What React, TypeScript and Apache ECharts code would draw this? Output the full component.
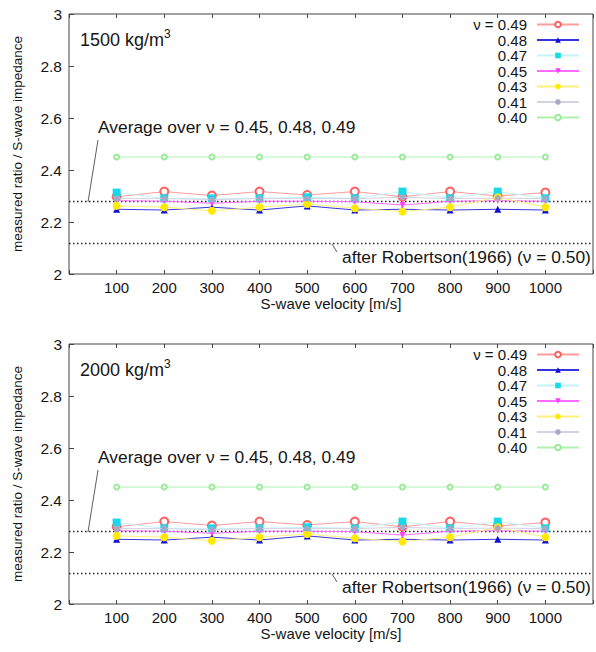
import React, { useEffect, useRef } from "react";
import * as echarts from "echarts";

// ---- data ----
const velocities = [100, 200, 300, 400, 500, 600, 700, 800, 900, 1000];
const nu049 = [2.297, 2.317, 2.302, 2.317, 2.304, 2.317, 2.297, 2.317, 2.3, 2.313];
const nu048 = [2.249, 2.246, 2.257, 2.246, 2.262, 2.246, 2.249, 2.246, 2.249, 2.246];
const nu047 = [2.313, 2.291, 2.291, 2.291, 2.295, 2.291, 2.317, 2.291, 2.317, 2.291];
const nu045 = [2.282, 2.28, 2.272, 2.28, 2.28, 2.278, 2.265, 2.28, 2.282, 2.28];
const nu043 = [2.262, 2.257, 2.243, 2.257, 2.269, 2.253, 2.24, 2.257, 2.295, 2.257];
const nu041 = [2.29, 2.29, 2.286, 2.29, 2.29, 2.29, 2.295, 2.29, 2.292, 2.29];
const nu040 = [2.45, 2.45, 2.45, 2.45, 2.45, 2.45, 2.45, 2.45, 2.45, 2.45];
const avgLevel = 2.278;
const robertsonLevel = 2.12;
const panelDensities = ["1500", "2000"];
const seriesNames = ["ν = 0.49", "0.48", "0.47", "0.45", "0.43", "0.41", "0.40"];
const seriesValues = [nu049, nu048, nu047, nu045, nu043, nu041, nu040];
const avgText = "Average over ν = 0.45, 0.48, 0.49";
const robertsonText = "after Robertson(1966) (ν = 0.50)";
const xName = "S-wave velocity [m/s]";
const yName = "measured ratio / S-wave impedance";

// ---- styles ----
const styles = [
  { color: "#ff6060", line: "#ff9c9c", symbol: "emptyCircle", size: 8, rotate: 0 },
  { color: "#1010d0", line: "#3535e0", symbol: "triangle", size: 7, rotate: 0 },
  { color: "#18d8ea", line: "#c2f3f8", symbol: "rect", size: 8, rotate: 0 },
  { color: "#ff3cff", line: "#ff6cff", symbol: "triangle", size: 6, rotate: 180 },
  { color: "#ffea00", line: "#fff07a", symbol: "circle", size: 8, rotate: 0 },
  { color: "#a8a8c4", line: "#d2d2e2", symbol: "circle", size: 6, rotate: 0 },
  { color: "#98ec98", line: "#aef2ae", symbol: "emptyCircle", size: 5, rotate: 0 },
];

const FONT = "'Liberation Sans', Arial, Helvetica, sans-serif";
const TEXT = "#151515";
const FRAME = "#444";
const GRID_LEFT = 69;
const GRID_W = 529;
const GRID_H = 260;
const panelTops = [14, 344];
const legendRowCenters = [25, 40.5, 56, 71.5, 87, 102.5, 118];

export default function App() {
  const ref = useRef<HTMLDivElement>(null);
  useEffect(() => {
    const chart = echarts.init(ref.current!, null, { renderer: "svg" });
    const grid: any[] = [];
    const xAxis: any[] = [];
    const yAxis: any[] = [];
    const series: any[] = [];
    const legend: any[] = [];
    const graphic: any[] = [];

    panelTops.forEach((top, p) => {
      const off = top - panelTops[0];
      grid.push({
        left: GRID_LEFT,
        top,
        width: GRID_W,
        height: GRID_H,
        show: true,
        borderColor: FRAME,
        borderWidth: 1,
        backgroundColor: "transparent",
      });
      xAxis.push({
        type: "value",
        gridIndex: p,
        min: 0,
        max: 1100,
        interval: 100,
        name: xName,
        nameLocation: "middle",
        nameGap: 21,
        nameTextStyle: { fontFamily: FONT, fontSize: 15, color: TEXT },
        axisLine: { show: false },
        axisTick: { show: true, inside: true, length: 4, lineStyle: { color: FRAME } },
        splitLine: { show: false },
        axisLabel: {
          fontFamily: FONT,
          fontSize: 15,
          color: TEXT,
          margin: 6,
          formatter: (v: number) => (velocities.includes(v) ? String(v) : ""),
        },
      });
      xAxis.push({
        type: "value",
        gridIndex: p,
        position: "top",
        min: 0,
        max: 1100,
        interval: 100,
        axisLine: { show: false },
        axisTick: { show: true, inside: true, length: 4, lineStyle: { color: FRAME } },
        splitLine: { show: false },
        axisLabel: { show: false },
      });
      yAxis.push({
        type: "value",
        gridIndex: p,
        min: 2,
        max: 3,
        interval: 0.2,
        name: yName,
        nameLocation: "middle",
        nameGap: 45,
        nameTextStyle: { fontFamily: FONT, fontSize: 13.5, color: TEXT },
        axisLine: { show: false },
        axisTick: { show: true, inside: true, length: 5, lineStyle: { color: FRAME } },
        splitLine: { show: false },
        axisLabel: { fontFamily: FONT, fontSize: 15.5, color: TEXT, margin: 7 },
      });

      seriesNames.forEach((name, i) => {
        const st = styles[i];
        const s: any = {
          type: "line",
          name,
          xAxisIndex: p * 2,
          yAxisIndex: p,
          data: velocities.map((v, k) => [v, seriesValues[i][k]]),
          symbol: st.symbol,
          symbolSize: st.size,
          symbolRotate: st.rotate,
          showAllSymbol: true,
          lineStyle: { color: st.line, width: 1 },
          itemStyle: { color: st.color, borderColor: st.color, borderWidth: st.symbol === "emptyCircle" ? 1 : 0 },
          emphasis: { disabled: true },
          silent: true,
          z: 2 + i,
        };
        if (i === 0) {
          s.markLine = {
            silent: true,
            symbol: ["none", "none"],
            label: { show: false },
            lineStyle: { color: "#222", width: 1.3, type: [1.5, 2.5] },
            data: [{ yAxis: avgLevel }, { yAxis: robertsonLevel }],
            z: 1,
          };
        }
        series.push(s);
      });

      seriesNames.forEach((name, i) => {
        legend.push({
          show: true,
          data: [name],
          orient: "vertical",
          align: "right",
          right: 16,
          top: legendRowCenters[i] + off - 8,
          itemWidth: 42,
          itemHeight: 7,
          padding: 0,
          selectedMode: false,
          textStyle: { fontFamily: FONT, fontSize: 15, color: TEXT, padding: [0, 5, 0, 0] },
        });
      });

      graphic.push(
        {
          type: "text",
          x: 80,
          y: 40 + off,
          style: {
            text: panelDensities[p] + " kg/m{sup|3}",
            fontFamily: FONT,
            fontSize: 18,
            fill: TEXT,
            verticalAlign: "middle",
            lineHeight: 24,
            rich: { sup: { fontFamily: FONT, fontSize: 12, verticalAlign: "top", lineHeight: 24, fill: TEXT } },
          },
        },
        {
          type: "text",
          x: 98,
          y: 127 + off,
          style: { text: avgText, fontFamily: FONT, fontSize: 17.4, fill: TEXT, verticalAlign: "middle" },
        },
        {
          type: "line",
          shape: { x1: 98, y1: 140 + off, x2: 88, y2: 202 + off },
          style: { stroke: "#333", lineWidth: 0.8 },
        },
        {
          type: "text",
          x: 342,
          y: 256.5 + off,
          style: { text: robertsonText, fontFamily: FONT, fontSize: 17.4, fill: TEXT, verticalAlign: "middle" },
        },
        {
          type: "line",
          shape: { x1: 332, y1: 244 + off, x2: 337, y2: 252 + off },
          style: { stroke: "#333", lineWidth: 0.8 },
        }
      );
    });

    chart.setOption({
      animation: false,
      backgroundColor: "#fff",
      grid,
      xAxis,
      yAxis,
      series,
      legend,
      graphic,
    });
    return () => chart.dispose();
  }, []);
  return <div ref={ref} style={{ position: "fixed", left: 0, top: 0, width: 596, height: 652 }} />;
}
